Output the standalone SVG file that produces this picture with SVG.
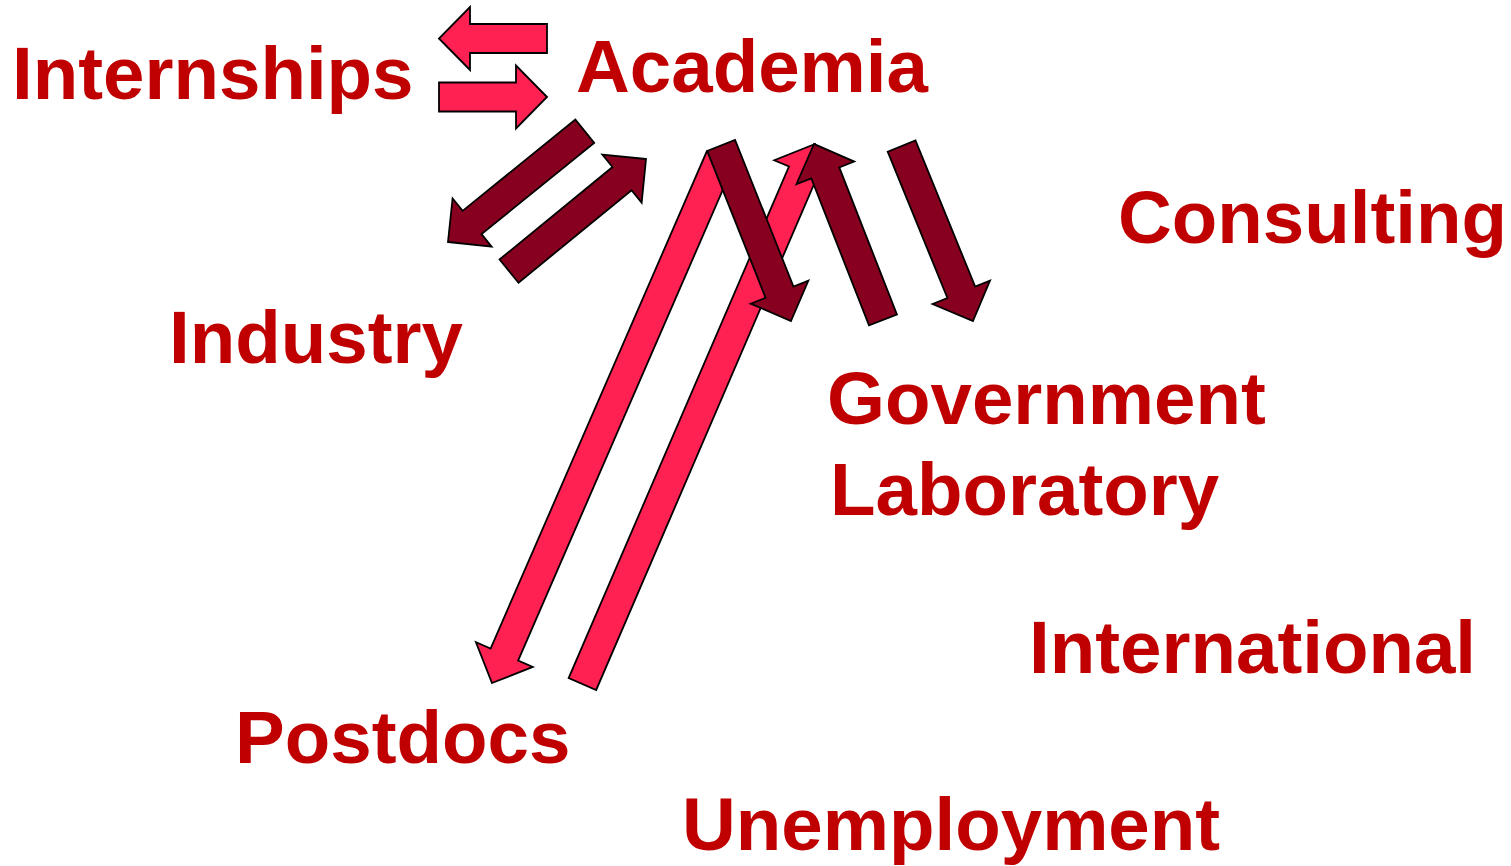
<svg xmlns="http://www.w3.org/2000/svg" width="1511" height="866" viewBox="0 0 1511 866">
  <style>
    .label { font-family: "Liberation Sans", Arial, sans-serif; font-weight: bold; font-size: 74.5px; fill: #C00000; }
    .arrow { stroke: #000; stroke-width: 1.8; stroke-linejoin: miter; }
    .light { fill: #FF2152; }
    .dark { fill: #88001F; }
  </style>
  <rect width="1511" height="866" fill="#fff"/>

  <!-- block arrows: tip at local origin, pointing along +x -->
  <g id="connectors">
    <!-- internships exchange -->
    <polygon class="arrow light" transform="translate(439,38.5) rotate(180)" points="0,0 -31,-31.5 -31,-14.5 -108,-14.5 -108,14.5 -31,14.5 -31,31.5"/>
    <polygon class="arrow light" transform="translate(547,97)" points="0,0 -31,-31.5 -31,-14.5 -108,-14.5 -108,14.5 -31,14.5 -31,31.5"/>
    <!-- postdocs exchange -->
    <polygon class="arrow light" transform="translate(492,683) rotate(113.5)" points="0,0 -31,-31 -31,-15 -573,-15 -573,15 -31,15 -31,31"/>
    <polygon class="arrow light" transform="translate(815,144) rotate(-66.7)" points="0,0 -31,-31 -31,-15 -588,-15 -588,15 -31,15 -31,31"/>
    <!-- industry exchange -->
    <polygon class="arrow dark" transform="translate(448,242) rotate(141)" points="0,0 -31,-31 -31,-15 -176,-15 -176,15 -31,15 -31,31"/>
    <polygon class="arrow dark" transform="translate(646,159) rotate(-39.3)" points="0,0 -31,-31 -31,-15 -177,-15 -177,15 -31,15 -31,31"/>
    <!-- government laboratory exchange -->
    <polygon class="arrow dark" transform="translate(791,321) rotate(68.3)" points="0,0 -31,-31 -31,-15 -189,-15 -189,15 -31,15 -31,31"/>
    <polygon class="arrow dark" transform="translate(814,144) rotate(-111.4)" points="0,0 -31,-31 -31,-15 -189,-15 -189,15 -31,15 -31,31"/>
    <polygon class="arrow dark" transform="translate(973,321) rotate(67.8)" points="0,0 -31,-31 -31,-15 -189,-15 -189,15 -31,15 -31,31"/>
  </g>

  <g id="internships"><text class="label" x="12" y="99">Internships</text></g>
  <g id="academia"><text class="label" x="576" y="92">Academia</text></g>
  <g id="consulting"><text class="label" x="1118" y="243">Consulting</text></g>
  <g id="industry"><text class="label" x="169" y="363">Industry</text></g>
  <g id="government-laboratory">
    <text class="label" x="827" y="424">Government</text>
    <text class="label" x="830" y="515">Laboratory</text>
  </g>
  <g id="international"><text class="label" x="1029" y="673">International</text></g>
  <g id="postdocs"><text class="label" x="235" y="763">Postdocs</text></g>
  <g id="unemployment"><text class="label" x="682" y="850">Unemployment</text></g>
</svg>
